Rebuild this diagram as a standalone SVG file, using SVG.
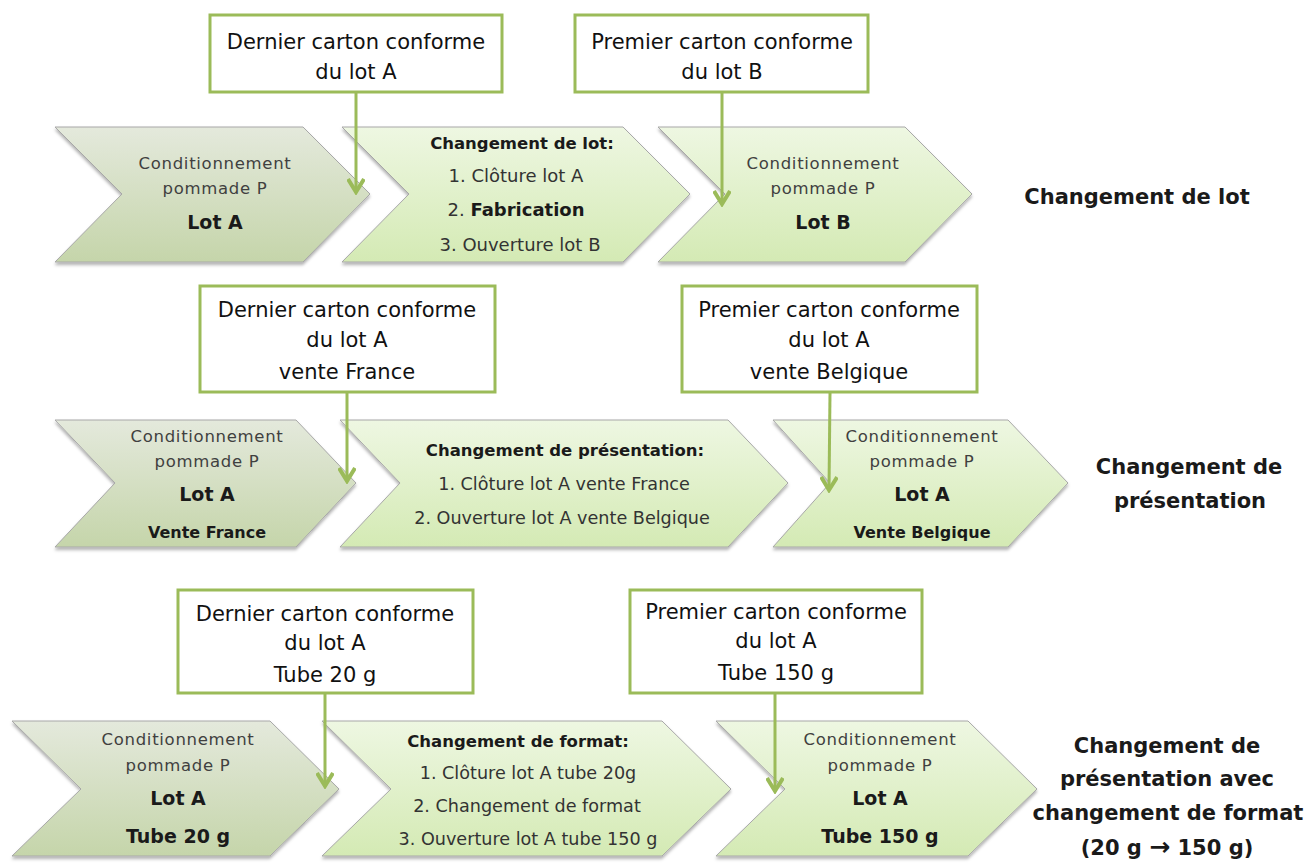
<svg xmlns="http://www.w3.org/2000/svg" width="1315" height="865" viewBox="0 0 1315 865">
<style>
text{font-family:"DejaVu Sans","Liberation Sans",sans-serif;text-anchor:middle}
.bt{font-size:21px;fill:#111}
.cd{font-size:16.5px;fill:#404040;letter-spacing:0.7px}
.lt{font-size:19px;font-weight:bold;fill:#1a1a1a}
.vt{font-size:16px;font-weight:bold;fill:#1a1a1a}
.hd{font-size:16.5px;font-weight:bold;fill:#1a1a1a}
.it{font-size:17.6px;fill:#333}
.lb{font-size:21px;font-weight:bold;fill:#1a1a1a}
.box{fill:#fff;stroke:#9bbb59;stroke-width:3}
.chA{fill:url(#gA);stroke:#a8a8a8;stroke-width:1;filter:url(#sh)}
.chB{fill:url(#gB);stroke:#a8a8a8;stroke-width:1;filter:url(#sh)}
.ar{stroke:#9bbb59;stroke-width:3;fill:none;marker-end:url(#ah)}
</style>
<defs>
<linearGradient id="gA" x1="0" y1="0" x2="0" y2="1">
<stop offset="0" stop-color="#e4e9dc"/><stop offset="1" stop-color="#c5d5aa"/>
</linearGradient>
<linearGradient id="gB" x1="0" y1="0" x2="0" y2="1">
<stop offset="0" stop-color="#eef7e2"/><stop offset="1" stop-color="#d4eab4"/>
</linearGradient>
<filter id="sh" x="-5%" y="-5%" width="110%" height="115%">
<feDropShadow dx="0" dy="2.5" stdDeviation="1.5" flood-color="#000" flood-opacity="0.3"/>
</filter>
<marker id="ah" viewBox="0 0 20 18" refX="17" refY="9" markerWidth="20" markerHeight="18" markerUnits="userSpaceOnUse" orient="auto">
<path d="M4,1 L17,9 L4,17" fill="none" stroke="#9bbb59" stroke-width="4"/>
</marker>
</defs>

<!-- Row 1 -->
<g id="r1c1"><polygon class="chA" points="55,127 303,127 370,194 303,262 55,262 122,194"/>
<text class="cd" x="215" y="169">Conditionnement</text><text class="cd" x="215" y="194">pommade P</text><text class="lt" x="215" y="229">Lot A</text></g>
<g id="r1c2"><polygon class="chB" points="342,127 623,127 690,194 623,262 342,262 409,194"/>
<text class="hd" x="522" y="149">Changement de lot:</text><text class="it" x="516" y="182" style="font-size:18px">1. Clôture lot A</text>
<text class="it" x="516" y="216" style="font-size:18px">2. <tspan style="font-weight:bold;fill:#1a1a1a">Fabrication</tspan></text>
<text class="it" x="520" y="251" style="font-size:18px">3. Ouverture lot B</text></g>
<g id="r1c3"><polygon class="chB" points="658,127 905,127 972,194 905,262 658,262 725,194"/>
<text class="cd" x="823" y="169">Conditionnement</text><text class="cd" x="823" y="194">pommade P</text><text class="lt" x="823" y="229">Lot B</text></g>
<g id="r1b1"><rect class="box" x="210" y="15" width="292" height="77"/>
<text class="bt" x="356" y="49">Dernier carton conforme</text><text class="bt" x="356" y="79">du lot A</text></g>
<g id="r1b2"><rect class="box" x="575" y="15" width="293" height="77"/>
<text class="bt" x="722" y="49">Premier carton conforme</text><text class="bt" x="722" y="79">du lot B</text></g>
<g id="r1lab"><text class="lb" x="1137" y="204">Changement de lot</text></g>

<!-- Row 2 -->
<g id="r2c1"><polygon class="chA" points="55,420 296,420 356,483 296,547 55,547 115,483"/>
<text class="cd" x="207" y="442">Conditionnement</text><text class="cd" x="207" y="467">pommade P</text><text class="lt" x="207" y="501">Lot A</text><text class="vt" x="207" y="538">Vente France</text></g>
<g id="r2c2"><polygon class="chB" points="340,420 728,420 788,483 728,547 340,547 400,483"/>
<text class="hd" x="565" y="456">Changement de présentation:</text><text class="it" x="564" y="490">1. Clôture lot A vente France</text><text class="it" x="562" y="524">2. Ouverture lot A vente Belgique</text></g>
<g id="r2c3"><polygon class="chB" points="773,420 1008,420 1068,483 1008,547 773,547 830,483"/>
<text class="cd" x="922" y="442">Conditionnement</text><text class="cd" x="922" y="467">pommade P</text><text class="lt" x="922" y="501">Lot A</text><text class="vt" x="922" y="538">Vente Belgique</text></g>
<g id="r2b1"><rect class="box" x="200" y="286" width="295" height="106"/>
<text class="bt" x="347" y="317">Dernier carton conforme</text><text class="bt" x="347" y="347">du lot A</text><text class="bt" x="347" y="379">vente France</text></g>
<g id="r2b2"><rect class="box" x="682" y="286" width="295" height="106"/>
<text class="bt" x="829" y="317">Premier carton conforme</text><text class="bt" x="829" y="347">du lot A</text><text class="bt" x="829" y="379">vente Belgique</text></g>
<g id="r2lab"><text class="lb" x="1189" y="474">Changement de</text><text class="lb" x="1190" y="508">présentation</text></g>

<!-- Row 3 -->
<g id="r3c1"><polygon class="chA" points="12,721 270,721 339,789 270,856 12,856 81,789"/>
<text class="cd" x="178" y="745">Conditionnement</text><text class="cd" x="178" y="771">pommade P</text><text class="lt" x="178" y="805">Lot A</text><text class="lt" x="178" y="843">Tube 20 g</text></g>
<g id="r3c2"><polygon class="chB" points="322,721 662,721 731,789 662,856 322,856 391,789"/>
<text class="hd" x="518" y="747">Changement de format:</text><text class="it" x="528" y="779">1. Clôture lot A tube  20g</text><text class="it" x="527" y="812">2. Changement de format</text><text class="it" x="528" y="845">3. Ouverture lot A tube 150 g</text></g>
<g id="r3c3"><polygon class="chB" points="716,721 968,721 1037,789 968,856 716,856 785,789"/>
<text class="cd" x="880" y="745">Conditionnement</text><text class="cd" x="880" y="771">pommade P</text><text class="lt" x="880" y="805">Lot A</text><text class="lt" x="880" y="843">Tube 150 g</text></g>
<g id="r3b1"><rect class="box" x="178" y="590" width="295" height="103"/>
<text class="bt" x="325" y="621">Dernier carton conforme</text><text class="bt" x="325" y="650">du lot A</text><text class="bt" x="325" y="682">Tube 20 g</text></g>
<g id="r3b2"><rect class="box" x="630" y="590" width="292" height="103"/>
<text class="bt" x="776" y="619">Premier carton conforme</text><text class="bt" x="776" y="648">du lot A</text><text class="bt" x="776" y="680">Tube 150 g</text></g>
<g id="r3lab"><text class="lb" x="1167" y="753">Changement de</text><text class="lb" x="1167" y="786">présentation avec</text><text class="lb" x="1168" y="820">changement de format</text><text class="lb" x="1167" y="855">(20 g <tspan style="font-size:25px">→</tspan> 150 g)</text></g>

<g id="connectors">
<line class="ar" x1="356" y1="93" x2="356" y2="192"/>
<line class="ar" x1="722" y1="93" x2="722" y2="204"/>
<line class="ar" x1="347" y1="393" x2="347" y2="481"/>
<line class="ar" x1="830" y1="393" x2="829" y2="490"/>
<line class="ar" x1="325" y1="694" x2="325" y2="786"/>
<line class="ar" x1="775" y1="694" x2="775" y2="791"/>
</g>
</svg>
